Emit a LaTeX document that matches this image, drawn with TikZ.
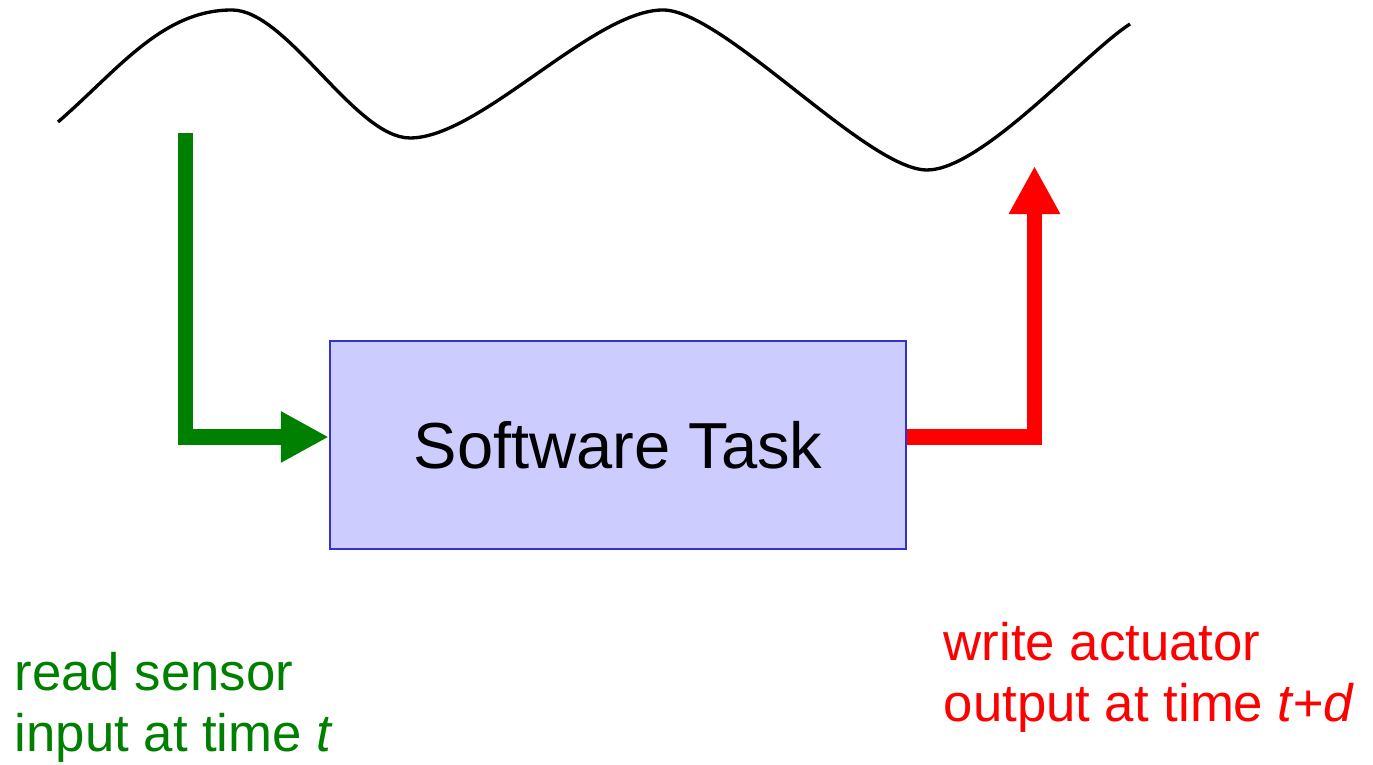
\documentclass[tikz,border=0pt]{standalone}
\usepackage{fontspec}
\setmainfont{Liberation Sans}
\usetikzlibrary{arrows.meta}

\definecolor{taskfill}{RGB}{204,204,255}
\definecolor{taskline}{RGB}{51,51,204}
\definecolor{readgreen}{RGB}{0,128,0}

\tikzset{
	flow/.style={line width=4.4pt, -{Triangle[length=0.48cm, width=0.48cm]}},
	note/.style={align=left, inner sep=0pt, anchor=base west, font=\fontsize{15pt}{17.5pt}\selectfont}
}

\begin{document}
\begin{tikzpicture}[x=0.01cm, y=-0.01cm]
			\useasboundingbox (0,0) rectangle (1373,765);

			% the physical signal
			\draw [line width=0.95pt] (58,122)
				.. controls (118,70) and (162,10) .. (232,10)
				.. controls (287,10) and (355,138) .. (410,138)
				.. controls (480,138) and (593,10) .. (663,10)
				.. controls (723,10) and (867,170) .. (927,170)
				.. controls (982,170) and (1085,53) .. (1130,24);

			\node (task)[draw=taskline, fill=taskfill, line width=0.6pt, inner sep=0pt,
				minimum width=5.76cm, minimum height=2.08cm,
				font=\fontsize{18.5pt}{22pt}\selectfont] at (618,445) {Software Task};

			\coordinate (sense) at (185.5,133);
			\coordinate (act) at (1034.5,166);

			\draw [flow, readgreen](sense) |- ([yshift=0.08cm]task.west);
			\draw [flow, red]([yshift=0.08cm]task.east) -| (act);

			\node (readnote)[note, text=readgreen] at (14,752) {read sensor\\input at time \textit{t}};
			\node (writenote)[note, text=red] at (943,722) {write actuator\\output at time \textit{t+d}};
		\end{tikzpicture}
\end{document}
